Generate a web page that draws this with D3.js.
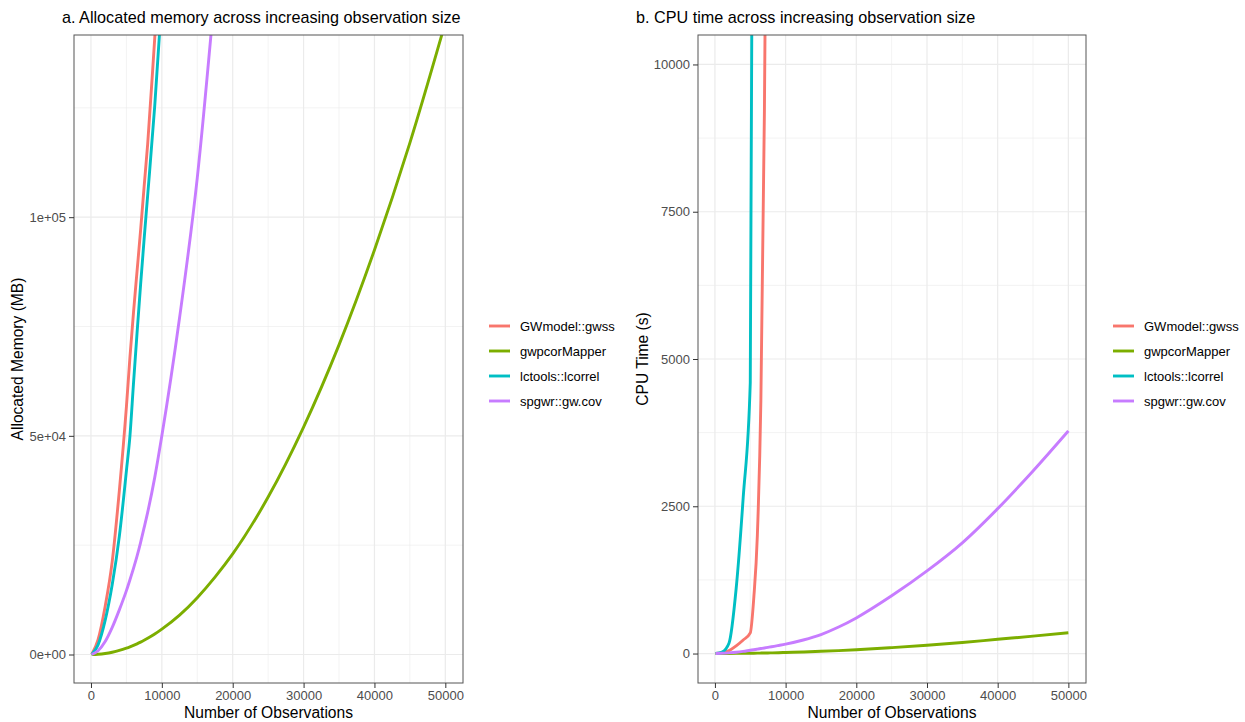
<!DOCTYPE html>
<html>
<head>
<meta charset="utf-8">
<script src="https://cdn.jsdelivr.net/npm/d3@7"></script>
<style>
  body { margin: 0; background: #fff; }
  text { font-family: "Liberation Sans", Arial, Helvetica, sans-serif; }
</style>
</head>
<body>
<script>
// observation sizes used on the x axis
var obsSizes = [100, 1000, 2000, 3000, 4000, 5000, 5500, 6000, 6500, 7000, 7500, 8000, 9000, 10000,
                12500, 15000, 17500, 20000, 25000, 30000, 35000, 40000, 45000, 50000];

var seriesNames = ["GWmodel::gwss", "gwpcorMapper", "lctools::lcorrel", "spgwr::gw.cov"];
var seriesColors = ["#F8766D", "#7CAE00", "#00BFC4", "#C77CFF"];

// allocated memory (MB)
var memGwss    = [0, 3400, 11000, 21300, 37400, 56600, 68000, 78200, 87600, 97000, 107000, 116700, 141000, 165000,
                  null, null, null, null, null, null, null, null, null, null];
var memGwpcor  = [0, 60, 230, 520, 925, 1450, 1750, 2080, 2440, 2830, 3250, 3700, 4680, 5800,
                  9000, 13000, 17700, 23000, 36000, 52000, 70800, 92500, 117000, 144500];
var memLctools = [0, 2200, 7800, 16000, 27000, 42000, 50000, 62000, 73500, 84500, 95000, 105000, 125500, 150000,
                  null, null, null, null, null, null, null, null, null, null];
var memSpgwr   = [0, 850, 2960, 6200, 10200, 14600, 17100, 19700, 22500, 25600, 29000, 32500, 40500, 50000,
                  77000, 109000, 152000, null, null, null, null, null, null, null];

// CPU time (s)
var cpuGwss    = [0, 10, 50, 130, 230, 350, 950, 2000, 4300, 9200, 17000, null, null, null,
                  null, null, null, null, null, null, null, null, null, null];
var cpuGwpcor  = [0, 0.5, 1.5, 2.5, 4, 5, 6, 7, 8, 9, 10, 11.5, 14.5, 18,
                  27, 38, 50, 64, 100, 140, 188, 242, 295, 352];
var cpuLctools = [0, 25, 180, 1100, 2650, 4600, 18600, null, null, null, null, null, null, null,
                  null, null, null, null, null, null, null, null, null, null];
var cpuSpgwr   = [0, 5, 12, 22, 37, 56, 65, 75, 85, 95, 105, 115, 137, 160,
                  230, 322, 450, 605, 980, 1403, 1880, 2460, 3100, 3780];

var xTicks = [0, 10000, 20000, 30000, 40000, 50000];
var xMinor = [5000, 15000, 25000, 35000, 45000];
var memTicks = [0, 50000, 100000];
var memTickLabels = ["0e+00", "5e+04", "1e+05"];
var memMinor = [25000, 75000, 125000];
var cpuTicks = [0, 2500, 5000, 7500, 10000];
var cpuTickLabels = ["0", "2500", "5000", "7500", "10000"];
var cpuMinor = [1250, 3750, 6250, 8750];

var svg = d3.select("body")
    .append("svg")
    .attr("width", 1245)
    .attr("height", 722);

function drawPanel(opt) {
    var left = opt.left, top = 35, width = opt.width, height = 648;

    var x = d3.scaleLinear().domain([-2395, 52495]).range([left, left + width]);
    var y = d3.scaleLinear().domain(opt.yDomain).range([top + height, top]);

    var g = svg.append("g");

    // title
    g.append("text")
        .attr("x", opt.titleX)
        .attr("y", 23)
        .style("font-size", "16.2px")
        .style("fill", "#000")
        .text(opt.title);

    // grid
    g.selectAll(".xminor").data(xMinor).enter().append("line")
        .attr("x1", function (d) { return x(d); }).attr("x2", function (d) { return x(d); })
        .attr("y1", top).attr("y2", top + height)
        .attr("stroke", "#EBEBEB").attr("stroke-width", 0.6);
    g.selectAll(".yminor").data(opt.yMinor).enter().append("line")
        .attr("x1", left).attr("x2", left + width)
        .attr("y1", function (d) { return y(d); }).attr("y2", function (d) { return y(d); })
        .attr("stroke", "#EBEBEB").attr("stroke-width", 0.6);
    g.selectAll(".xmajor").data(xTicks).enter().append("line")
        .attr("x1", function (d) { return x(d); }).attr("x2", function (d) { return x(d); })
        .attr("y1", top).attr("y2", top + height)
        .attr("stroke", "#EBEBEB").attr("stroke-width", 1.2);
    g.selectAll(".ymajor").data(opt.yTicks).enter().append("line")
        .attr("x1", left).attr("x2", left + width)
        .attr("y1", function (d) { return y(d); }).attr("y2", function (d) { return y(d); })
        .attr("stroke", "#EBEBEB").attr("stroke-width", 1.2);

    // lines
    var clipId = "clip" + opt.id;
    svg.append("clipPath").attr("id", clipId)
        .append("rect").attr("x", left).attr("y", top).attr("width", width).attr("height", height);

    var line = d3.line()
        .defined(function (d) { return d.v != null; })
        .x(function (d) { return x(d.n); })
        .y(function (d) { return y(d.v); })
        .curve(d3.curveMonotoneX);

    opt.series.forEach(function (vals, i) {
        var pts = obsSizes.map(function (n, j) { return { n: n, v: vals[j] }; });
        g.append("path")
            .datum(pts)
            .attr("clip-path", "url(#" + clipId + ")")
            .attr("fill", "none")
            .attr("stroke", seriesColors[i])
            .attr("stroke-width", 2.9)
            .attr("stroke-linejoin", "round")
            .attr("d", line);
    });

    // border
    g.append("rect")
        .attr("x", left).attr("y", top).attr("width", width).attr("height", height)
        .attr("fill", "none").attr("stroke", "#555").attr("stroke-width", 1);

    // axes
    var xa = g.append("g")
        .attr("transform", "translate(0," + (top + height) + ")")
        .call(d3.axisBottom(x).tickValues(xTicks).tickFormat(d3.format("d")).tickSize(5).tickPadding(3));
    var ya = g.append("g")
        .attr("transform", "translate(" + left + ",0)")
        .call(d3.axisLeft(y).tickValues(opt.yTicks)
            .tickFormat(function (d, i) { return opt.yTickLabels[i]; })
            .tickSize(5).tickPadding(3));
    [xa, ya].forEach(function (a) {
        a.select(".domain").remove();
        a.selectAll(".tick line").attr("stroke", "#333").attr("stroke-width", 1);
        a.selectAll(".tick text")
            .style("font-family", "'Liberation Sans', Arial, sans-serif")
            .style("font-size", "13px")
            .attr("fill", "#4D4D4D");
    });

    // axis titles
    g.append("text")
        .attr("x", left + width / 2)
        .attr("y", 718)
        .attr("text-anchor", "middle")
        .style("font-size", "15.6px")
        .text("Number of Observations");
    g.append("text")
        .attr("transform", "translate(" + opt.yTitleX + "," + (top + height / 2) + ")rotate(-90)")
        .attr("text-anchor", "middle")
        .attr("dy", "0.35em")
        .style("font-size", "15.6px")
        .text(opt.yTitle);

    // legend
    var lg = g.append("g");
    seriesNames.forEach(function (name, i) {
        var cy = 326 + i * 25;
        lg.append("line")
            .attr("x1", opt.legendX).attr("x2", opt.legendX + 21)
            .attr("y1", cy).attr("y2", cy)
            .attr("stroke", seriesColors[i]).attr("stroke-width", 2.9);
        lg.append("text")
            .attr("x", opt.legendX + 31)
            .attr("y", cy)
            .attr("dy", "0.35em")
            .style("font-size", "13px")
            .text(name);
    });
}

drawPanel({
    id: "a",
    left: 74, width: 389,
    title: "a. Allocated memory across increasing observation size",
    titleX: 62,
    yDomain: [-6517, 141660],
    yTicks: memTicks, yTickLabels: memTickLabels, yMinor: memMinor,
    yTitle: "Allocated Memory (MB)", yTitleX: 18,
    series: [memGwss, memGwpcor, memLctools, memSpgwr],
    legendX: 489
});

drawPanel({
    id: "b",
    left: 698, width: 388,
    title: "b. CPU time across increasing observation size",
    titleX: 636,
    yDomain: [-500, 10500],
    yTicks: cpuTicks, yTickLabels: cpuTickLabels, yMinor: cpuMinor,
    yTitle: "CPU Time (s)", yTitleX: 643,
    series: [cpuGwss, cpuGwpcor, cpuLctools, cpuSpgwr],
    legendX: 1113
});
</script>
</body>
</html>
